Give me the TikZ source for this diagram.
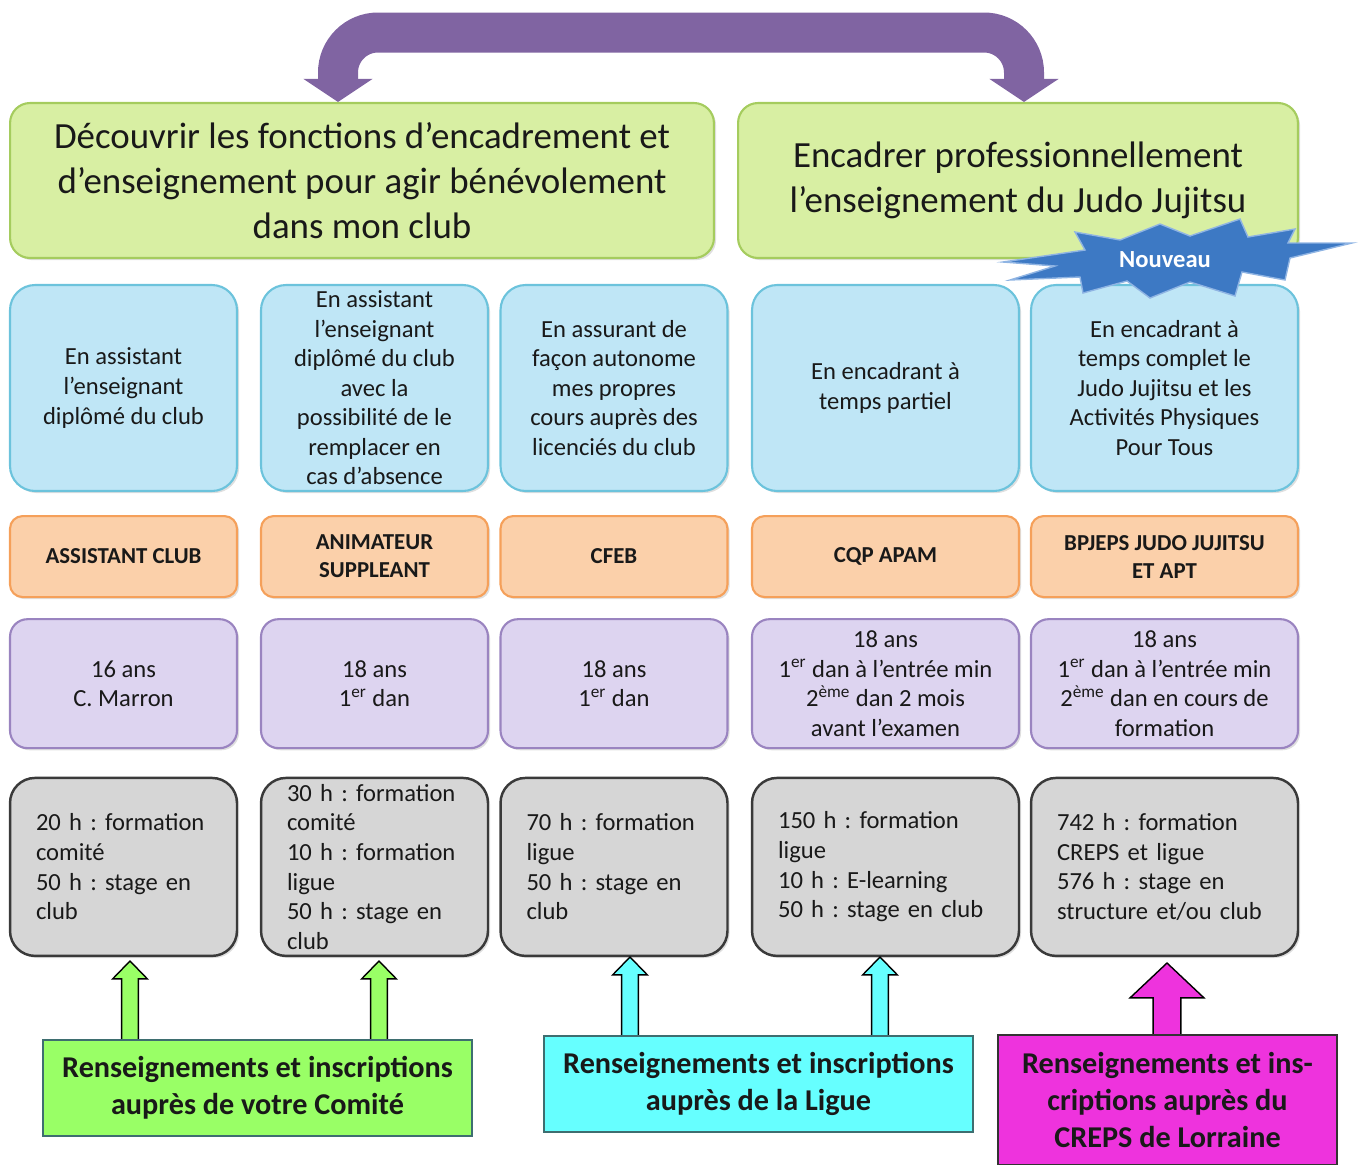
\documentclass[tikz,border=0pt]{standalone}
\usepackage{fontspec}
\setmainfont{Carlito}
\usetikzlibrary{positioning, calc, arrows.meta, shadows}
\frenchspacing

\definecolor{goalfill}{HTML}{D8EFA3}
\definecolor{goalline}{HTML}{A5CC5E}
\definecolor{howfill}{HTML}{BFE6F6}
\definecolor{howline}{HTML}{6CC3DC}
\definecolor{diplfill}{HTML}{FBD0AA}
\definecolor{diplline}{HTML}{F5A05A}
\definecolor{reqfill}{HTML}{DDD4F0}
\definecolor{reqline}{HTML}{9A84C0}
\definecolor{hourfill}{HTML}{D6D6D6}
\definecolor{hourline}{HTML}{3A3A3A}
\definecolor{comitefill}{HTML}{99FF66}
\definecolor{liguefill}{HTML}{66FFFF}
\definecolor{crepsfill}{HTML}{EE33DD}
\definecolor{infoline}{HTML}{3E6E70}
\definecolor{bandcol}{HTML}{8064A2}
\definecolor{burstfill}{HTML}{3D79C4}
\definecolor{burstline}{HTML}{8FB4E3}

% block arrow from the bottom box up to a box of the grid
\newcommand{\blockarrow}[6]{%
  \draw[fill=#6, line width=0.8pt, line join=miter] let \p1=#1, \p2=#2 in
    (\x1-#3,\y1) -- (\x1-#3,\y2-#5) -- (\x1-#4,\y2-#5) -- (\x2,\y2)
    -- (\x1+#4,\y2-#5) -- (\x1+#3,\y2-#5) -- (\x1+#3,\y1);}

\begin{document}
\begin{tikzpicture}[x=0.02cm, y=-0.02cm]
    \useasboundingbox (0,0) rectangle (1359,1164);
    % Default look of the boxes
    \tikzstyle{every node}=[inner sep=0pt, align=center, text=black!90];
    \tikzstyle{soft}=[drop shadow={opacity=0.25, shadow xshift=1.2pt, shadow yshift=-1.2pt}];
    \tikzstyle{goal}=[soft, draw=goalline, fill=goalfill, line width=1.2pt, rounded corners=0.4cm,
        minimum height=3.1cm, font=\fontsize{21}{25.6}\selectfont];
    \tikzstyle{how}=[soft, draw=howline, fill=howfill, line width=1.2pt, rounded corners=0.5cm,
        minimum height=4.12cm, font=\fontsize{14}{16.8}\selectfont];
    \tikzstyle{dipl}=[soft, draw=diplline, fill=diplfill, line width=1.2pt, rounded corners=0.25cm,
        minimum height=1.62cm, font=\bfseries\fontsize{13}{16}\selectfont];
    \tikzstyle{req}=[soft, draw=reqline, fill=reqfill, line width=1.2pt, rounded corners=0.35cm,
        minimum height=2.58cm, font=\fontsize{14}{16.9}\selectfont];
    \tikzstyle{hours}=[soft, draw=hourline, fill=hourfill, line width=1.4pt, rounded corners=0.5cm,
        minimum height=3.56cm, align=left, font=\fontsize{14}{16.9}\selectfont];
    \tikzstyle{info}=[draw=infoline, line width=1.2pt, minimum width=8.58cm, minimum height=1.92cm,
        font=\bfseries\fontsize{17.2}{21}\selectfont];
    \tikzstyle{slim}=[minimum width=4.54cm];
    \tikzstyle{broad}=[minimum width=5.34cm];

    % The two aims
    \node[goal, minimum width=14.08cm] (g1) at (362,180.5)
        {Découvrir les fonctions d’encadrement et\\d’enseignement pour agir bénévolement\\dans mon club};
    \node[goal, minimum width=11.2cm] (g2) at (1018,180.5)
        {Encadrer professionnellement\\l’enseignement du Judo Jujitsu};

    % What one does
    \node[how, slim] (h1) at (123.5,388) {En assistant\\l’enseignant\\diplômé du club};
    \node[how, slim] (h2) at (374.5,388) {En assistant\\l’enseignant\\diplômé du club\\avec la\\possibilité de le\\remplacer en\\cas d’absence};
    \node[how, slim] (h3) at (614,388) {En assurant de\\façon autonome\\mes propres\\cours auprès des\\licenciés du club};
    \node[how, broad] (h4) at (885.5,388) {En encadrant à\\temps partiel};
    \node[how, broad] (h5) at (1164.5,388) {En encadrant à\\temps complet le\\Judo Jujitsu et les\\Activités Physiques\\Pour Tous};

    % Diplomas
    \node[dipl, slim] (d1) [below=0.46cm of h1] {ASSISTANT CLUB};
    \node[dipl, slim] (d2) [below=0.46cm of h2] {ANIMATEUR\\SUPPLEANT};
    \node[dipl, slim] (d3) [below=0.46cm of h3] {CFEB};
    \node[dipl, broad] (d4) [below=0.46cm of h4] {CQP APAM};
    \node[dipl, broad] (d5) [below=0.46cm of h5] {BPJEPS JUDO JUJITSU\\ET APT};

    % Requirements
    \node[req, slim] (p1) [below=0.4cm of d1] {16 ans\\C. Marron};
    \node[req, slim] (p2) [below=0.4cm of d2] {18 ans\\1\textsuperscript{er} dan};
    \node[req, slim] (p3) [below=0.4cm of d3] {18 ans\\1\textsuperscript{er} dan};
    \node[req, broad] (p4) [below=0.4cm of d4] {18 ans\\1\textsuperscript{er} dan à l’entrée min\\2\textsuperscript{ème} dan 2 mois\\avant l’examen};
    \node[req, broad] (p5) [below=0.4cm of d5] {18 ans\\1\textsuperscript{er} dan à l’entrée min\\2\textsuperscript{ème} dan en cours de\\formation};

    % Training hours
    \node[hours, slim, text width=3.5cm] (t1) [below=0.55cm of p1] {20 h : formation\\comité\\50 h : stage en\\club};
    \node[hours, slim, text width=3.5cm] (t2) [below=0.55cm of p2] {30 h : formation\\comité\\10 h : formation\\ligue\\50 h : stage en\\club};
    \node[hours, slim, text width=3.5cm] (t3) [below=0.55cm of p3] {70 h : formation\\ligue\\50 h : stage en\\club};
    \node[hours, broad, text width=4.3cm] (t4) [below=0.55cm of p4] {150 h : formation\\ligue\\10 h : E-learning\\50 h : stage en club};
    \node[hours, broad, text width=4.3cm] (t5) [below=0.55cm of p5] {742 h : formation\\CREPS et ligue\\576 h : stage en\\structure et/ou club};

    % Arrow between the two aims
    \coordinate (lx) at (338,0);
    \coordinate (rx) at (1024,0);
    \coordinate (band) at (680,32.5);
    \draw[bandcol, line width=0.8cm, rounded corners=0.8cm,
        {Triangle[length=0.46cm, width=1.36cm]}-{Triangle[length=0.46cm, width=1.36cm]}]
        (lx |- g1.north) |- (band) -| (rx |- g2.north);

    % Nouveau
    \filldraw[fill=burstfill, draw=burstline, line width=0.8pt]
        (1003,262) -- (1085,250) -- (1075,232) -- (1120,240) -- (1160,224) -- (1190,236)
        -- (1240,219) -- (1248,237) -- (1295,229) -- (1288,243) -- (1352,243) -- (1290,258)
        -- (1285,280) -- (1242,272) -- (1235,296) -- (1190,282) -- (1150,298) -- (1127,281)
        -- (1083,293) -- (1080,277) -- (1010,280) -- (1055,266) -- cycle;
    \node[text=white, font=\bfseries\fontsize{14}{16}\selectfont] (nv) at (1165,260) {Nouveau};

    % Where to register
    \coordinate (k1) at (130,961);
    \coordinate (k2) at (379,961);
    \coordinate (k3) at (630,957);
    \coordinate (k4) at (880,957);
    \coordinate (k5) at (1167,963);
    \node[info, fill=comitefill] (cg) at (257.5,1088) {Renseignements et inscriptions\\auprès de votre Comité};
    \node[info, fill=liguefill] (cl) at (758.5,1084) {Renseignements et inscriptions\\auprès de la Ligue};
    \node[info, fill=crepsfill, draw=black!80, minimum width=6.78cm, minimum height=2.6cm] (cc) at (1167.5,1100)
        {Renseignements et ins-\\criptions auprès du\\CREPS de Lorraine};
    \blockarrow{(cg.north -| k1)}{(k1)}{4.8pt}{9.9pt}{10.2pt}{comitefill}
    \blockarrow{(cg.north -| k2)}{(k2)}{4.8pt}{9.9pt}{10.2pt}{comitefill}
    \blockarrow{(cl.north -| k3)}{(k3)}{4.8pt}{9.9pt}{10.2pt}{liguefill}
    \blockarrow{(cl.north -| k4)}{(k4)}{4.8pt}{9.9pt}{10.2pt}{liguefill}
    \blockarrow{(cc.north -| k5)}{(k5)}{7.9pt}{21pt}{19.8pt}{crepsfill}
\end{tikzpicture}
\end{document}
